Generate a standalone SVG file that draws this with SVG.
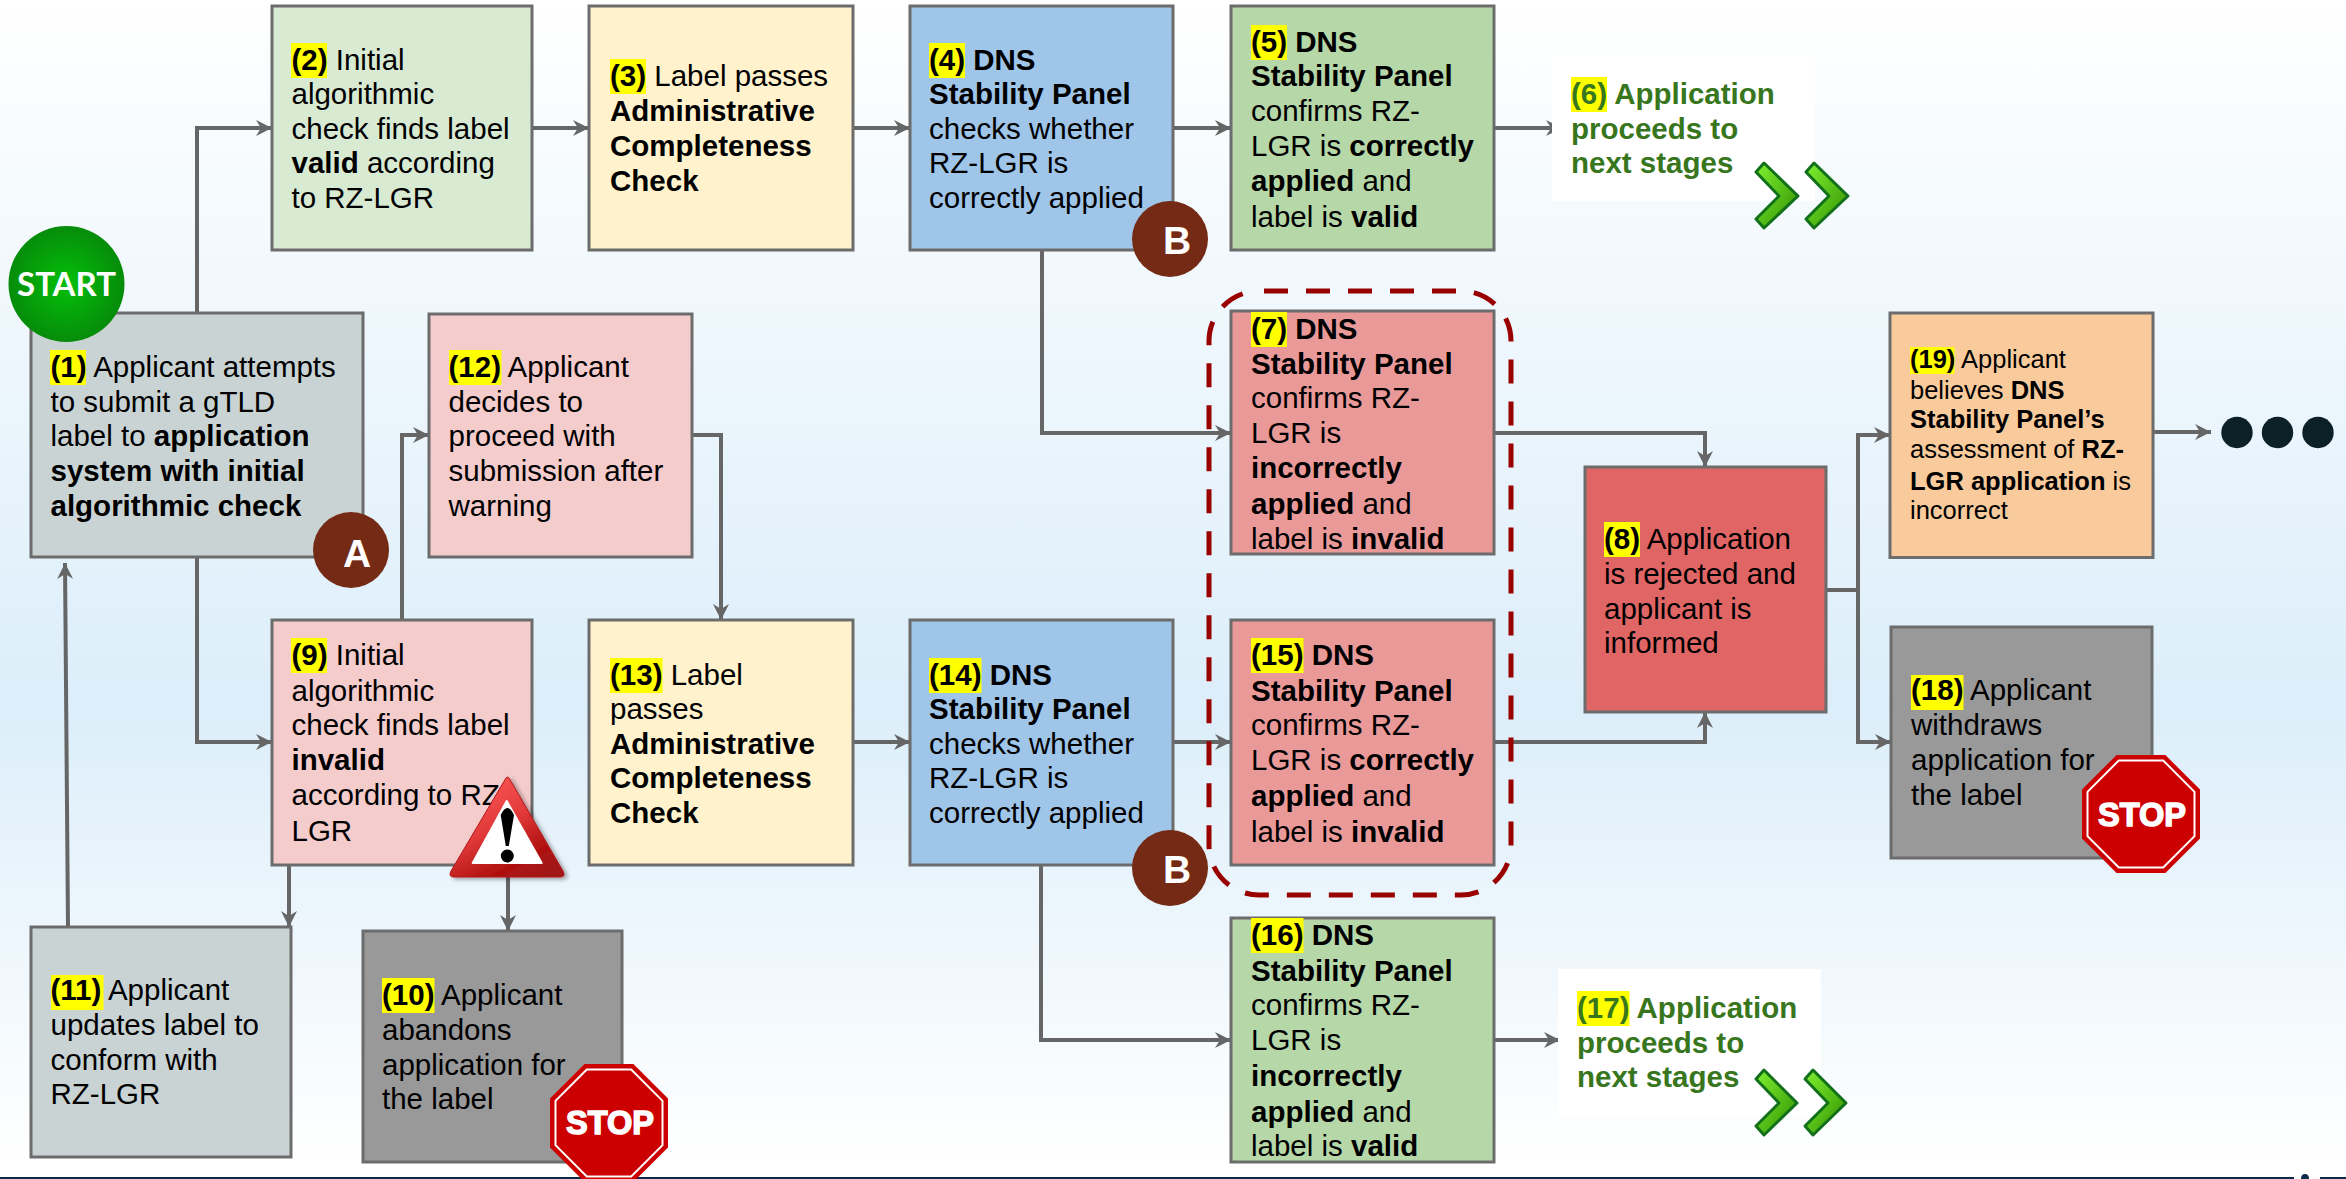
<svg xmlns="http://www.w3.org/2000/svg" width="2346" height="1179" viewBox="0 0 2346 1179">
<style>
text{font-family:"Liberation Sans",Arial,sans-serif;fill:#000;font-size:29.5px}
.b{font-weight:700}
.box{stroke:#6c6c6c;stroke-width:3}
.hl{fill:#ff0}
.g{fill:#38761d;font-weight:700}
.c{fill:none;stroke:#666;stroke-width:4;marker-end:url(#ah)}
.n{fill:none;stroke:#666;stroke-width:4}
.ltr{fill:#fff;font-weight:700;font-size:39px;text-anchor:middle}
.circ{fill:#742a14}
.stopo{fill:#c00}
.stopi{fill:none;stroke:#fff;stroke-width:2}
.stopt{fill:#fff;stroke:#fff;stroke-width:1.5;font-weight:700;font-size:32.5px;text-anchor:middle}
.chev{fill:url(#cg);stroke:#12701a;stroke-width:3;stroke-linejoin:round}
.dot{fill:#0b2027}
</style>
<defs>
<linearGradient id="bg" x1="0" y1="0" x2="0" y2="1"><stop offset="0" stop-color="#fff"/><stop offset=".6" stop-color="#dceefa"/><stop offset=".985" stop-color="#fff"/></linearGradient>
<radialGradient id="sg"><stop offset="0" stop-color="#04c00a"/><stop offset="1" stop-color="#068c0a"/></radialGradient>
<linearGradient id="cg" x1="0" y1="0" x2="1" y2="1"><stop offset="0" stop-color="#80f030"/><stop offset="1" stop-color="#2f9000"/></linearGradient>
<linearGradient id="wg" x1="0.2" y1="0" x2="0.8" y2="1"><stop offset="0" stop-color="#ff5a5a"/><stop offset=".45" stop-color="#e23a3a"/><stop offset=".8" stop-color="#b01010"/><stop offset="1" stop-color="#a01818"/></linearGradient>
<filter id="sh" x="-10%" y="-10%" width="125%" height="125%"><feDropShadow dx="3" dy="2" stdDeviation="2" flood-color="#000" flood-opacity=".35"/></filter>
<marker id="ah" markerUnits="userSpaceOnUse" markerWidth="16" markerHeight="16" refX="16" refY="8" orient="auto" viewBox="0 0 16 16"><path d="M0,0L16,8L0,16L5,8z" fill="#666"/></marker>
</defs>
<rect width="2346" height="1179" fill="url(#bg)"/>
<path d="M0,1177H2294V1179H0zM2320,1177H2346V1179H2320zM2301,1179Q2301,1174 2305,1174Q2309,1174 2309,1179z" fill="#0c2b4a"/>
<g id="connectors">
<path class="c" d="M197,313V128H272"/>
<path class="c" d="M532,128H589"/>
<path class="c" d="M853,128H910"/>
<path class="c" d="M1173,128H1231"/>
<path class="c" d="M1494,128H1562"/>
<path class="c" d="M1042,250V433H1231"/>
<path class="c" d="M1494,433H1705V467"/>
<path class="c" d="M1494,742H1705V712"/>
<path class="c" d="M1173,742H1231"/>
<path class="c" d="M853,742H910"/>
<path class="c" d="M197,557V742H272"/>
<path class="c" d="M402,620V435H429"/>
<path class="c" d="M692,435H721V620"/>
<path class="c" d="M1041,865V1040H1231"/>
<path class="c" d="M1494,1040H1560"/>
<path class="n" d="M1826,590H1858"/>
<path class="c" d="M1858,590V435H1890"/>
<path class="c" d="M1858,590V742H1891"/>
<path class="c" d="M2153,432H2211"/>
<path class="c" d="M68,927L65,563"/>
<path class="c" d="M289,865V927"/>
<path class="c" d="M508,877V931"/>
</g>
<g id="n1"><rect class="box" x="31" y="313" width="332" height="244" fill="#c9d3d3"/><rect class="hl" x="50" y="350" width="36" height="35"/>
<text><tspan x="50.5" y="377" class="b">(1)</tspan><tspan> Applicant attempts</tspan><tspan x="50.5" y="412">to submit a gTLD</tspan><tspan x="50.5" y="446">label to </tspan><tspan class="b">application</tspan><tspan x="50.5" y="481" class="b">system with initial</tspan><tspan x="50.5" y="516" class="b">algorithmic check</tspan></text></g>
<g id="start"><circle cx="66.5" cy="284" r="58" fill="url(#sg)"/><text x="66.5" y="296" style="fill:#fff;font-family:Lato,sans-serif;font-weight:700;font-size:33px" text-anchor="middle">START</text></g>
<g id="badgeA"><circle class="circ" cx="351" cy="550" r="38"/><text class="ltr" x="357" y="567">A</text></g>
<g id="n2"><rect class="box" x="272" y="6" width="260" height="244" fill="#d9ead3"/><rect class="hl" x="291" y="43" width="36" height="35"/>
<text><tspan x="291.5" y="70" class="b">(2)</tspan><tspan> Initial</tspan><tspan x="291.5" y="104">algorithmic</tspan><tspan x="291.5" y="139">check finds label</tspan><tspan x="291.5" y="173" class="b">valid</tspan><tspan> according</tspan><tspan x="291.5" y="208">to RZ-LGR</tspan></text></g>
<g id="n3"><rect class="box" x="589" y="6" width="264" height="244" fill="#fff2cc"/><rect class="hl" x="610" y="59" width="36" height="35"/>
<text><tspan x="610" y="86" class="b">(3)</tspan><tspan> Label passes</tspan><tspan x="610" y="121" class="b">Administrative</tspan><tspan x="610" y="156" class="b">Completeness</tspan><tspan x="610" y="191" class="b">Check</tspan></text></g>
<g id="n4"><rect class="box" x="910" y="6" width="263" height="244" fill="#9fc5e8"/><rect class="hl" x="929" y="43" width="36" height="35"/>
<text><tspan x="929" y="70" class="b">(4) DNS</tspan><tspan x="929" y="104" class="b">Stability Panel</tspan><tspan x="929" y="139">checks whether</tspan><tspan x="929" y="173">RZ-LGR is</tspan><tspan x="929" y="208">correctly applied</tspan></text></g>
<g id="badgeB1"><circle class="circ" cx="1170" cy="239" r="38"/><text class="ltr" x="1177" y="254">B</text></g>
<g id="n5"><rect class="box" x="1231" y="6" width="263" height="244" fill="#b6d7a8"/><rect class="hl" x="1251" y="25" width="36" height="35"/>
<text><tspan x="1251" y="52" class="b">(5) DNS</tspan><tspan x="1251" y="86" class="b">Stability Panel</tspan><tspan x="1251" y="121">confirms RZ-</tspan><tspan x="1251" y="156">LGR is </tspan><tspan class="b">correctly</tspan><tspan x="1251" y="191" class="b">applied</tspan><tspan> and</tspan><tspan x="1251" y="227">label is </tspan><tspan class="b">valid</tspan></text></g>
<g id="n6"><rect x="1552" y="55" width="263" height="146" fill="#fff"/><rect class="hl" x="1571" y="77" width="36" height="35"/>
<text class="g"><tspan x="1571" y="104">(6) Application</tspan><tspan x="1571" y="139">proceeds to</tspan><tspan x="1571" y="173">next stages</tspan></text>
<path class="chev" d="M1764,163L1798,196L1764,228L1756,219L1779,196L1756,172z"/><path class="chev" d="M1814,163L1848,196L1814,228L1806,219L1829,196L1806,172z"/></g>
<g id="n7"><rect class="box" x="1231" y="311" width="263" height="243" fill="#ea9999"/><rect class="hl" x="1251" y="312" width="36" height="35"/>
<text><tspan x="1251" y="339" class="b">(7) DNS</tspan><tspan x="1251" y="374" class="b">Stability Panel</tspan><tspan x="1251" y="408">confirms RZ-</tspan><tspan x="1251" y="443">LGR is</tspan><tspan x="1251" y="478" class="b">incorrectly</tspan><tspan x="1251" y="514" class="b">applied</tspan><tspan> and</tspan><tspan x="1251" y="549">label is </tspan><tspan class="b">invalid</tspan></text></g>
<g id="n8"><rect class="box" x="1585" y="467" width="241" height="245" fill="#e06666"/><rect class="hl" x="1604" y="522" width="36" height="35"/>
<text><tspan x="1604" y="549" class="b">(8)</tspan><tspan> Application</tspan><tspan x="1604" y="584">is rejected and</tspan><tspan x="1604" y="619">applicant is</tspan><tspan x="1604" y="653">informed</tspan></text></g>
<g id="n9"><rect class="box" x="272" y="620" width="260" height="245" fill="#f4cccc"/><rect class="hl" x="291" y="638" width="36" height="35"/>
<text><tspan x="291.5" y="665" class="b">(9)</tspan><tspan> Initial</tspan><tspan x="291.5" y="701">algorithmic</tspan><tspan x="291.5" y="735">check finds label</tspan><tspan x="291.5" y="770" class="b">invalid</tspan><tspan x="291.5" y="805">according to RZ-</tspan><tspan x="291.5" y="841">LGR</tspan></text></g>
<g id="warning"><path d="M506,778Q507.500,776 509,778L563,871Q566,877 560,877H454Q448,877 451,871Z" fill="url(#wg)" stroke="#b01818" stroke-width="1" stroke-linejoin="round" filter="url(#sh)"/><path d="M506.700,801L541.700,863H472.700Z" fill="#fff" stroke="#fff" stroke-width="2" stroke-linejoin="round"/><path d="M500.700,815Q507.300,801 514,815L508.800,846H505.800Z" fill="#000"/><circle cx="507.300" cy="856" r="6.500" fill="#000"/></g>
<g id="n10"><rect class="box" x="363" y="931" width="259" height="231" fill="#999"/><rect class="hl" x="382" y="978" width="52.500" height="35"/>
<text><tspan x="382" y="1005" class="b">(10)</tspan><tspan> Applicant</tspan><tspan x="382" y="1040">abandons</tspan><tspan x="382" y="1075">application for</tspan><tspan x="382" y="1109">the label</tspan></text></g>
<g id="stop1"><polygon class="stopo" points="584.600,1064 633.400,1064 668,1098.600 668,1147.400 633.400,1182 584.600,1182 550,1147.400 550,1098.600"/><polygon class="stopi" points="586.800,1069.500 631.200,1069.500 662.500,1100.800 662.500,1145.200 631.200,1176.500 586.800,1176.500 555.500,1145.200 555.500,1100.800"/><text class="stopt" x="610" y="1134">STOP</text></g>
<g id="n11"><rect class="box" x="31" y="927" width="260" height="230" fill="#c9d3d3"/><rect class="hl" x="51" y="975" width="52.500" height="35"/>
<text><tspan x="50.5" y="1000" class="b">(11)</tspan><tspan> Applicant</tspan><tspan x="50.5" y="1035">updates label to</tspan><tspan x="50.5" y="1070">conform with</tspan><tspan x="50.5" y="1104">RZ-LGR</tspan></text></g>
<g id="n12"><rect class="box" x="429" y="314" width="263" height="243" fill="#f4cccc"/><rect class="hl" x="449" y="350" width="52.500" height="35"/>
<text><tspan x="448.500" y="377" class="b">(12)</tspan><tspan> Applicant</tspan><tspan x="448.500" y="412">decides to</tspan><tspan x="448.500" y="446">proceed with</tspan><tspan x="448.500" y="481">submission after</tspan><tspan x="448.500" y="516">warning</tspan></text></g>
<g id="n13"><rect class="box" x="589" y="620" width="264" height="245" fill="#fff2cc"/><rect class="hl" x="610" y="658" width="52.500" height="35"/>
<text><tspan x="610" y="685" class="b">(13)</tspan><tspan> Label</tspan><tspan x="610" y="719">passes</tspan><tspan x="610" y="754" class="b">Administrative</tspan><tspan x="610" y="788" class="b">Completeness</tspan><tspan x="610" y="823" class="b">Check</tspan></text></g>
<g id="n14"><rect class="box" x="910" y="620" width="263" height="245" fill="#9fc5e8"/><rect class="hl" x="929" y="658" width="52.500" height="35"/>
<text><tspan x="929" y="685" class="b">(14) DNS</tspan><tspan x="929" y="719" class="b">Stability Panel</tspan><tspan x="929" y="754">checks whether</tspan><tspan x="929" y="788">RZ-LGR is</tspan><tspan x="929" y="823">correctly applied</tspan></text></g>
<g id="badgeB2"><circle class="circ" cx="1170" cy="868" r="38"/><text class="ltr" x="1177" y="883">B</text></g>
<g id="n15"><rect class="box" x="1231" y="620" width="263" height="245" fill="#ea9999"/><rect class="hl" x="1251" y="638" width="52.500" height="35"/>
<text><tspan x="1251" y="665" class="b">(15) DNS</tspan><tspan x="1251" y="701" class="b">Stability Panel</tspan><tspan x="1251" y="735">confirms RZ-</tspan><tspan x="1251" y="770">LGR is </tspan><tspan class="b">correctly</tspan><tspan x="1251" y="806" class="b">applied</tspan><tspan> and</tspan><tspan x="1251" y="842">label is </tspan><tspan class="b">invalid</tspan></text></g>
<g id="n16"><rect class="box" x="1231" y="918" width="263" height="244" fill="#b6d7a8"/><rect class="hl" x="1251" y="918" width="52.500" height="35"/>
<text><tspan x="1251" y="945" class="b">(16) DNS</tspan><tspan x="1251" y="981" class="b">Stability Panel</tspan><tspan x="1251" y="1015">confirms RZ-</tspan><tspan x="1251" y="1050">LGR is</tspan><tspan x="1251" y="1086" class="b">incorrectly</tspan><tspan x="1251" y="1122" class="b">applied</tspan><tspan> and</tspan><tspan x="1251" y="1156">label is </tspan><tspan class="b">valid</tspan></text></g>
<g id="n17"><rect x="1558" y="969" width="263" height="146" fill="#fff"/><rect class="hl" x="1577" y="991" width="52.500" height="35"/>
<text class="g"><tspan x="1577" y="1018">(17) Application</tspan><tspan x="1577" y="1053">proceeds to</tspan><tspan x="1577" y="1087">next stages</tspan></text>
<path class="chev" d="M1764,1070L1797,1103L1764,1135L1756,1126L1779,1103L1756,1079z"/><path class="chev" d="M1813,1070L1846,1103L1813,1135L1805,1126L1828,1103L1805,1079z"/></g>
<g id="n18"><rect class="box" x="1891" y="627" width="261" height="231" fill="#999"/><rect class="hl" x="1911" y="675" width="52.500" height="35"/>
<text><tspan x="1911" y="700" class="b">(18)</tspan><tspan> Applicant</tspan><tspan x="1911" y="735">withdraws</tspan><tspan x="1911" y="770">application for</tspan><tspan x="1911" y="805">the label</tspan></text></g>
<g id="stop2"><polygon class="stopo" points="2116.600,755 2165.400,755 2200,789.600 2200,838.400 2165.400,873 2116.600,873 2082,838.400 2082,789.600"/><polygon class="stopi" points="2118.800,760.500 2163.200,760.500 2194.500,791.800 2194.500,836.200 2163.200,867.500 2118.800,867.500 2087.500,836.200 2087.500,791.800"/><text class="stopt" x="2142" y="826">STOP</text></g>
<g id="n19"><rect class="box" x="1890" y="313" width="263" height="244.500" fill="#f9cb9c"/><rect class="hl" x="1910" y="347" width="44.500" height="27"/>
<text style="font-size:25.500px"><tspan x="1910" y="368" class="b">(19)</tspan><tspan> Applicant</tspan><tspan x="1910" y="399">believes </tspan><tspan class="b">DNS</tspan><tspan x="1910" y="428" class="b">Stability Panel’s</tspan><tspan x="1910" y="458">assessment of </tspan><tspan class="b">RZ-</tspan><tspan x="1910" y="490" class="b">LGR application</tspan><tspan> is</tspan><tspan x="1910" y="519">incorrect</tspan></text></g>
<g id="more"><circle class="dot" cx="2237" cy="432.500" r="15.700"/><circle class="dot" cx="2277.500" cy="432.500" r="15.700"/><circle class="dot" cx="2318" cy="432.500" r="15.700"/></g>
<g id="group"><rect x="1209" y="291" width="302" height="604" rx="50" fill="none" stroke="#990000" stroke-width="5" stroke-dasharray="24 18" stroke-dashoffset="-5"/></g>
</svg>
